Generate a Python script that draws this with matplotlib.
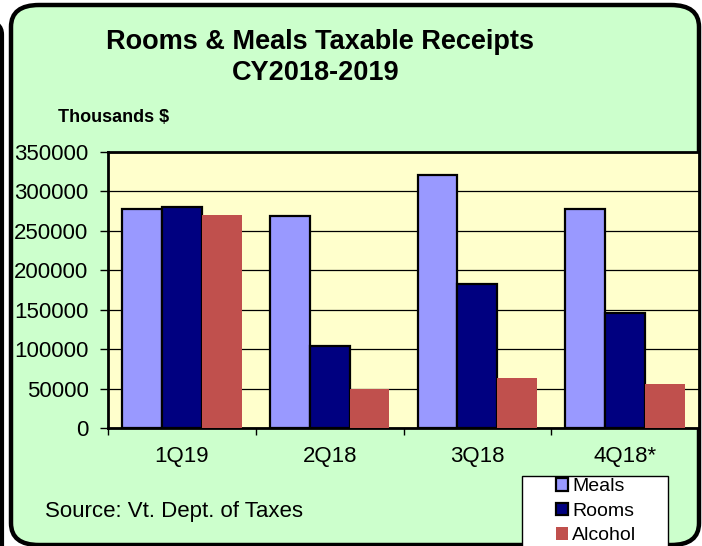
import numpy as np
import matplotlib.pyplot as plt
from matplotlib.patches import FancyBboxPatch, Rectangle

plt.rcParams['font.family'] = ['Liberation Sans', 'DejaVu Sans']

quarters = ['1Q19', '2Q18', '3Q18', '4Q18*']
meals = [277700, 268400, 320800, 277300]
rooms = [280200, 103600, 182200, 145400]
alcohol = [269700, 49000, 63000, 55800]
yticks = [0, 50000, 100000, 150000, 200000, 250000, 300000, 350000]

W, H = 702, 546
fig = plt.figure(figsize=(W / 100, H / 100), dpi=100)
fig.patch.set_facecolor('white')

# neighbouring panel edge on the far left
fig.patches.append(FancyBboxPatch((-300 / W, -40 / H), 302 / W, 565 / H,
                                  boxstyle='round,pad=0,rounding_size=0.025',
                                  transform=fig.transFigure, facecolor='white',
                                  edgecolor='black', lw=3, zorder=-2))
# main rounded frame
fig.patches.append(FancyBboxPatch((11 / W, 1 / H), 688 / W, 540 / H,
                                  boxstyle='round,pad=0,rounding_size=0.04',
                                  transform=fig.transFigure, facecolor='#CCFFCC',
                                  edgecolor='black', lw=3.2, zorder=-2))

ax = fig.add_axes([108 / W, 118 / H, 591 / W, 276 / H])
ax.set_zorder(1)
ax.set_facecolor('#FFFFCC')

x = np.arange(len(quarters))
bw = 0.27
ax.bar(x - bw, meals, bw, color='#9999FF', edgecolor='black', lw=1.6, label='Meals', zorder=3)
ax.bar(x, rooms, bw, color='#000080', edgecolor='black', lw=1.6, label='Rooms', zorder=3)
ax.bar(x + bw, alcohol, bw, color='#C0504D', edgecolor='none', label='Alcohol', zorder=3)

ax.set_xlim(-0.5, len(quarters) - 0.5)
ax.set_ylim(0, 350000)
ax.set_yticks(yticks)
ax.set_yticklabels([str(v) for v in yticks], fontsize=16)
ax.yaxis.grid(True, color='black', lw=0.9, zorder=1)
ax.set_axisbelow(True)
ax.set_xticks(np.arange(len(quarters) + 1) - 0.5)
ax.set_xticklabels([])
ax.set_xticks(x, minor=True)
ax.set_xticklabels(quarters, minor=True, fontsize=16)
ax.tick_params(axis='x', which='minor', length=0, pad=13)
ax.tick_params(axis='x', which='major', length=5, width=1, direction='out')
ax.tick_params(axis='y', length=6, width=1, direction='out', pad=8)
for s in ax.spines.values():
    s.set_linewidth(2)

fig.text(320 / W, 1 - 42 / H, 'Rooms & Meals Taxable Receipts', ha='center', va='center',
         fontsize=19.5, fontweight='bold')
fig.text(316 / W, 1 - 73 / H, 'CY2018-2019', ha='center', va='center',
         fontsize=19.5, fontweight='bold')
fig.text(58 / W, 1 - 118 / H, 'Thousands $', ha='left', va='center',
         fontsize=13, fontweight='bold')
fig.text(45 / W, 1 - 511 / H, 'Source: Vt. Dept. of Taxes', ha='left', va='center',
         fontsize=16)

# legend box
fig.patches.append(Rectangle((522 / W, -10 / H), 146 / W, (546 - 476 + 10) / H,
                             transform=fig.transFigure, facecolor='white',
                             edgecolor='black', lw=1, zorder=4))
leg = fig.legend(loc='upper left', bbox_to_anchor=(556 / W, 1 - 478 / H), fontsize=14,
                 frameon=False, handlelength=0.62, handleheight=0.62,
                 handletextpad=0.2, labelspacing=0.38, borderpad=0,
                 borderaxespad=0)
leg.set_zorder(5)

fig.savefig('out.png', dpi=100)
